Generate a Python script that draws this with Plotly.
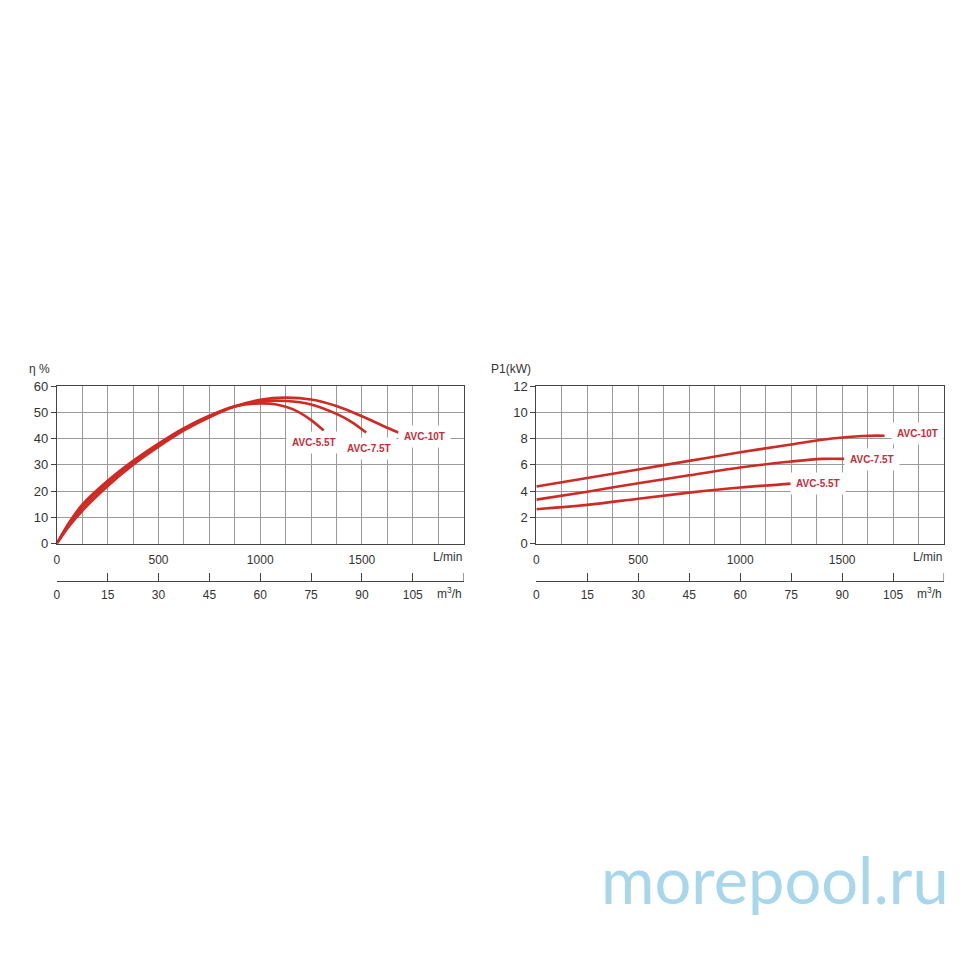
import plotly.graph_objects as go

# The page body has an 8px margin, so the figure is drawn from (8, 8).
OFF = 8
W = 954
H = 954

# ---------------- data ----------------
# Efficiency chart (L/min -> eta %)
flow_eff_55 = [0, 62, 125, 250, 375, 500, 625, 750, 875, 1000, 1080, 1160, 1240, 1312]
eff_55 = [0, 8.2, 14.8, 23.9, 31.5, 38.1, 44, 48.7, 52.2, 53.4, 53.0, 51.2, 47.6, 43.1]
flow_eff_75 = [0, 62, 125, 250, 375, 500, 625, 750, 875, 1000, 1125, 1250, 1375, 1450, 1521]
eff_75 = [0, 7.6, 13.8, 23.1, 31, 37.6, 43.6, 48.5, 52.3, 54.2, 54.3, 53.0, 49.4, 46.3, 42.3]
flow_eff_10 = [0, 62, 125, 250, 375, 500, 625, 750, 875, 1000, 1125, 1250, 1375, 1500, 1600, 1680]
eff_10 = [0, 6.8, 12.5, 21.9, 30, 36.9, 43.1, 48.1, 52.2, 54.8, 55.6, 54.9, 52.4, 48.5, 45.0, 42.3]

# Power chart (L/min -> P1 kW)
flow_p_55 = [0, 250, 500, 750, 1000, 1257]
p_55 = [2.62, 2.95, 3.42, 3.88, 4.27, 4.57]
flow_p_75 = [0, 250, 500, 750, 1000, 1250, 1400, 1510]
p_75 = [3.35, 3.95, 4.6, 5.2, 5.8, 6.25, 6.45, 6.45]
flow_p_10 = [0, 250, 500, 750, 1000, 1250, 1450, 1600, 1708]
p_10 = [4.35, 5.0, 5.65, 6.3, 6.95, 7.55, 8.0, 8.2, 8.22]

models = ["AVC-5.5T", "AVC-7.5T", "AVC-10T"]

lmin_ticks = [0, 500, 1000, 1500]
m3h_ticks = [0, 15, 30, 45, 60, 75, 90, 105]
m3h_end = 120

eff_range = [0, 60]
eff_dtick = 10
pow_range = [0, 12]
pow_dtick = 2
flow_range = [0, 2000]
flow_grid = 125

# label anchor points (L/min, value)
eff_label_pos = [(1263, 38.5), (1536, 36.2), (1810, 40.9)]
pow_label_pos = [(1381, 4.55), (1647, 6.37), (1872, 8.37)]

# ---------------- styling ----------------
RED = "rgb(208,42,36)"
LABEL_RED = "rgb(196,46,58)"
GRID = "#9a9a9a"
FRAME = "#444444"
TXT = "#333333"
FONT = "Arial, Liberation Sans, sans-serif"

def px_x(p):
    return (p - OFF) / W

def px_y(p):
    return 1 - (p - OFF) / H

left_dom = [px_x(54), px_x(462)]
right_dom = [px_x(535), px_x(944)]
y_dom = [px_y(545), px_y(385)]
m3_pos = px_y(583)

fig = go.Figure()

line_style = dict(color=RED, width=2.6, shape="spline", smoothing=1.0)

for fx, fy in [(flow_eff_55, eff_55), (flow_eff_75, eff_75), (flow_eff_10, eff_10)]:
    fig.add_trace(go.Scatter(x=fx, y=fy, mode="lines", line=line_style,
                             xaxis="x", yaxis="y", showlegend=False, hoverinfo="skip"))
for fx, fy in [(flow_p_55, p_55), (flow_p_75, p_75), (flow_p_10, p_10)]:
    fig.add_trace(go.Scatter(x=fx, y=fy, mode="lines", line=line_style,
                             xaxis="x2", yaxis="y2", showlegend=False, hoverinfo="skip"))

# invisible traces so the m3/h axes get drawn
fig.add_trace(go.Scatter(x=[0, 120], y=[None, None], mode="lines", xaxis="x3", yaxis="y",
                         showlegend=False, hoverinfo="skip"))
fig.add_trace(go.Scatter(x=[0, 120], y=[None, None], mode="lines", xaxis="x4", yaxis="y2",
                         showlegend=False, hoverinfo="skip"))

def flow_axis(dom, anchor):
    return dict(
        domain=dom, anchor=anchor, range=flow_range,
        tickmode="array", tickvals=lmin_ticks, ticktext=[str(t) for t in lmin_ticks],
        showgrid=True, gridcolor=GRID, gridwidth=1,
        minor=dict(dtick=flow_grid, tick0=0, showgrid=True, gridcolor=GRID, gridwidth=1, ticks=""),
        showline=True, linecolor=FRAME, linewidth=1, mirror=True,
        ticks="", ticklabelstandoff=5,
        tickfont=dict(family=FONT, size=12, color=TXT),
        zeroline=False, fixedrange=True,
    )

def val_axis(dom, anchor, rng, dt):
    return dict(
        domain=dom, anchor=anchor, range=rng, dtick=dt, tick0=0,
        showgrid=True, gridcolor=GRID, gridwidth=1,
        showline=True, linecolor=FRAME, linewidth=1, mirror=True,
        ticks="outside", ticklen=5, tickcolor=FRAME,
        tickfont=dict(family=FONT, size=13, color=TXT),
        zeroline=False, fixedrange=True,
    )

def m3_axis(overlay):
    return dict(
        overlaying=overlay, anchor="free", position=m3_pos, side="bottom",
        range=[0, m3h_end], tickmode="array", tickvals=m3h_ticks,
        ticktext=[str(t) for t in m3h_ticks],
        showgrid=False, showline=True, linecolor=FRAME, linewidth=1,
        ticks="inside", ticklen=8, tickcolor=FRAME,
        ticklabelstandoff=3,
        tickfont=dict(family=FONT, size=12, color=TXT),
        zeroline=False, fixedrange=True,
    )

fig.update_layout(
    width=W, height=H,
    margin=dict(l=0, r=0, t=0, b=0),
    paper_bgcolor="white", plot_bgcolor="white",
    xaxis=flow_axis(left_dom, "y"),
    yaxis=val_axis(y_dom, "x", eff_range, eff_dtick),
    xaxis2=flow_axis(right_dom, "y2"),
    yaxis2=val_axis(y_dom, "x2", pow_range, pow_dtick),
    xaxis3=m3_axis("x"),
    xaxis4=m3_axis("x2"),
)

# end ticks of the m3/h axes
shapes = []
for xr in ["x3", "x4"]:
    shapes.append(dict(type="line", xref=xr, yref="paper", x0=m3h_end, x1=m3h_end,
                       y0=m3_pos, y1=m3_pos + 8 / H, line=dict(color=FRAME, width=1)))
fig.update_layout(shapes=shapes)

ann = []
# curve labels
for name, (lx, ly) in zip(models, eff_label_pos):
    ann.append(dict(x=lx, y=ly, xref="x", yref="y", text="<b>%s</b>" % name, showarrow=False,
                    font=dict(family=FONT, size=10, color=LABEL_RED),
                    bgcolor="white", borderpad=5))
for name, (lx, ly) in zip(models, pow_label_pos):
    ann.append(dict(x=lx, y=ly, xref="x2", yref="y2", text="<b>%s</b>" % name, showarrow=False,
                    font=dict(family=FONT, size=10, color=LABEL_RED),
                    bgcolor="white", borderpad=5))

# unit labels at the end of axes
for xr in ["x", "x2"]:
    ann.append(dict(x=2000, y=px_y(559), xref=xr, yref="paper", text="L/min", showarrow=False,
                    xanchor="right", yanchor="middle", font=dict(family=FONT, size=12, color=TXT)))
for xr in ["x3", "x4"]:
    ann.append(dict(x=m3h_end, y=px_y(595), xref=xr, yref="paper", text="m<sup>3</sup>/h", showarrow=False,
                    xanchor="right", yanchor="middle", font=dict(family=FONT, size=12, color=TXT)))

# y-axis titles
ann.append(dict(x=px_x(24), y=px_y(368), xref="paper", yref="paper", text="η %", showarrow=False,
                xanchor="left", yanchor="middle", font=dict(family=FONT, size=12, color=TXT)))
ann.append(dict(x=px_x(488), y=px_y(368), xref="paper", yref="paper", text="P1(kW)", showarrow=False,
                xanchor="left", yanchor="middle", font=dict(family=FONT, size=12, color=TXT)))

# watermark
ann.append(dict(x=px_x(774), y=px_y(886), xref="paper", yref="paper", text="morepool.ru", showarrow=False,
                xanchor="center", yanchor="middle", font=dict(family="Lato, sans-serif", size=65, color="#a8d6ea")))

fig.update_layout(annotations=ann)

fig.write_html("out.html")
